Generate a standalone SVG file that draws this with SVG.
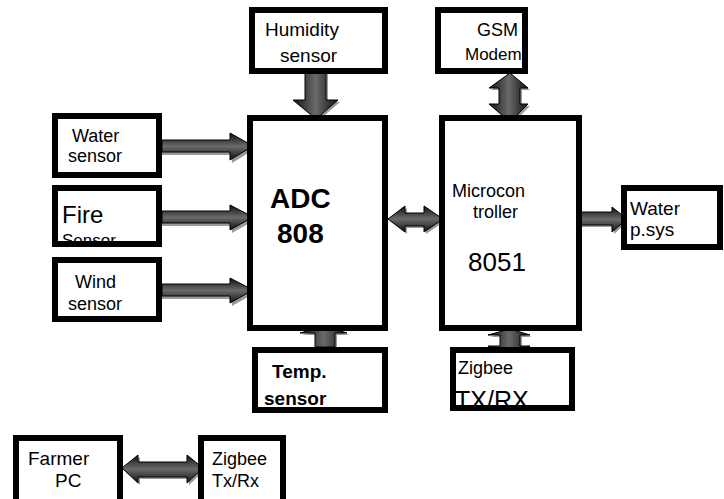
<svg xmlns="http://www.w3.org/2000/svg" width="724" height="499" viewBox="0 0 724 499">
<defs>
<linearGradient id="gv" x1="0" y1="0" x2="0" y2="1">
<stop offset="0" stop-color="#111"/><stop offset="0.5" stop-color="#6a6a6a"/><stop offset="1" stop-color="#111"/>
</linearGradient>
<linearGradient id="gh" x1="0" y1="0" x2="1" y2="0">
<stop offset="0" stop-color="#111"/><stop offset="0.5" stop-color="#6a6a6a"/><stop offset="1" stop-color="#111"/>
</linearGradient>
<clipPath id="cf"><rect x="55" y="188" width="104" height="53"/></clipPath>
</defs>
<style>
.box{fill:#fff;stroke:#000;stroke-width:6}
.t{font-family:"Liberation Sans",Arial,sans-serif;fill:#000}
.b{font-family:"Liberation Sans",Arial,sans-serif;font-weight:bold;fill:#000}
.ah{fill:url(#gv);stroke:#000;stroke-width:1}
.av{fill:url(#gh);stroke:#000;stroke-width:1}
.sh{fill:#9a9a9a}
</style>
<rect width="724" height="499" fill="#fff"/>

<g id="connectors">
<!-- Water sensor -> ADC -->
<polygon class="sh" points="162,143 232,143 232,136 255,149 232,163 232,155 162,155"/>
<polygon class="ah" points="162,140 230,140 230,133 253,146 230,160 230,152 162,152"/>
<!-- Fire -> ADC -->
<polygon class="sh" points="162,214 232,214 232,208 255,220 232,233 232,226 162,226"/>
<polygon class="ah" points="162,211 230,211 230,205 253,217 230,230 230,223 162,223"/>
<!-- Wind -> ADC -->
<polygon class="sh" points="162,287 232,287 232,281 255,293 232,306 232,299 162,299"/>
<polygon class="ah" points="162,284 230,284 230,278 253,290 230,303 230,296 162,296"/>
<!-- Humidity -> ADC -->
<polygon class="sh" points="307,74 328,74 328,102 340,102 318,121 295,102 307,102"/>
<polygon class="av" points="305,73 326,73 326,100 338,100 316,119 293,100 305,100"/>
<!-- ADC <-> Micro -->
<polygon class="sh" points="390,221 407,208 407,215 426,215 426,208 445,221 426,234 426,228 407,228 407,234"/>
<polygon class="ah" points="388,219 405,206 405,213 424,213 424,206 443,219 424,232 424,226 405,226 405,232"/>
<!-- GSM <-> Micro -->
<polygon class="sh" points="512,75 530,90 522,90 522,106 530,106 512,124 491,106 501,106 501,90 491,90"/>
<polygon class="av" points="510,73 528,88 520,88 520,104 528,104 510,122 489,104 499,104 499,88 489,88"/>
<!-- Micro -> Water p.sys -->
<polygon class="sh" points="570,215 614,215 614,209 629,221 614,234 614,227 570,227"/>
<polygon class="ah" points="570,212 612,212 612,207 627,219 612,232 612,225 570,225"/>
<!-- Temp -> ADC -->
<polygon class="sh" points="317,349 317,335 302,335 327,328 349,335 337,335 337,349"/>
<polygon class="av" points="315,347 315,333 300,333 325,326 347,333 335,333 335,347"/>
<!-- Micro <-> Zigbee -->
<polygon class="sh" points="512,331 532,337 522,337 522,348 532,348 512,355 490,348 502,348 502,337 490,337"/>
<polygon class="av" points="510,329 530,335 520,335 520,346 530,346 510,353 488,346 500,346 500,335 488,335"/>
<!-- Farmer PC <-> Zigbee Tx/Rx -->
<polygon class="sh" points="124,470 140,457 140,465 189,465 189,457 205,470 189,485 189,479 140,479 140,485"/>
<polygon class="ah" points="122,468 138,455 138,462 187,462 187,455 203,468 187,483 187,477 138,477 138,483"/>
</g>

<g id="humidity">
<rect class="box" x="252" y="10" width="133" height="61"/>
<text class="t" x="265" y="36" style="font-size:19px">Humidity</text>
<text class="t" x="280" y="62" style="font-size:19px">sensor</text>
</g>
<g id="gsm">
<rect class="box" x="438" y="10" width="87" height="61"/>
<text class="t" x="477" y="36" style="font-size:18px">GSM</text>
<text class="t" x="465" y="60" style="font-size:17px">Modem</text>
</g>
<g id="adc">
<rect class="box" x="250" y="118" width="135" height="210"/>
<text class="b" x="270" y="208" style="font-size:28px">ADC</text>
<text class="b" x="277" y="243" style="font-size:28px">808</text>
</g>
<g id="micro">
<rect class="box" x="442" y="118" width="137" height="210"/>
<text class="t" x="452" y="197" style="font-size:18px">Microcon</text>
<text class="t" x="473" y="218" style="font-size:18px">troller</text>
<text class="t" x="468" y="271" style="font-size:26px">8051</text>
</g>
<g id="water-sensor">
<rect class="box" x="55" y="116" width="104" height="59"/>
<text class="t" x="72" y="142" style="font-size:18px">Water</text>
<text class="t" x="68" y="162" style="font-size:18px">sensor</text>
</g>
<g id="fire-sensor">
<rect class="box" x="55" y="188" width="104" height="56"/>
<text class="t" x="62" y="223" style="font-size:24px">Fire</text>
<text class="t" x="62" y="246" style="font-size:17px" clip-path="url(#cf)">Sensor</text>
</g>
<g id="wind-sensor">
<rect class="box" x="55" y="260" width="104" height="59"/>
<text class="t" x="75" y="288" style="font-size:18px">Wind</text>
<text class="t" x="68" y="310" style="font-size:18px">sensor</text>
</g>
<g id="temp-sensor">
<rect class="box" x="255" y="350" width="130" height="60"/>
<text class="b" x="272" y="378" style="font-size:19px">Temp.</text>
<text class="b" x="264" y="405" style="font-size:19px">sensor</text>
</g>
<g id="zigbee-main">
<rect class="box" x="453" y="350" width="119" height="58"/>
<text class="t" x="458" y="374" style="font-size:18px">Zigbee</text>
<text class="t" x="455" y="409" style="font-size:25px">TX/RX</text>
</g>
<g id="water-psys">
<rect class="box" x="624" y="188" width="96" height="59"/>
<text class="t" x="630" y="215" style="font-size:19px">Water</text>
<text class="t" x="630" y="236" style="font-size:19px">p.sys</text>
</g>
<g id="farmer-pc">
<rect class="box" x="16" y="438" width="104" height="70"/>
<text class="t" x="28" y="465" style="font-size:19px">Farmer</text>
<text class="t" x="55" y="487" style="font-size:19px">PC</text>
</g>
<g id="zigbee-pc">
<rect class="box" x="201" y="438" width="82" height="70"/>
<text class="t" x="212" y="465" style="font-size:18px">Zigbee</text>
<text class="t" x="212" y="487" style="font-size:18px">Tx/Rx</text>
</g>
</svg>
